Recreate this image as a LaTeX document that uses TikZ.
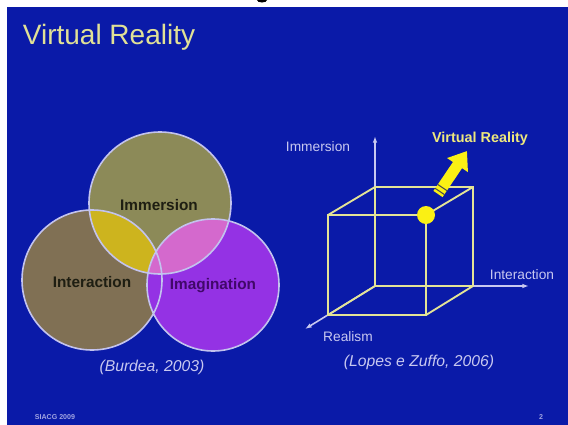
\documentclass[tikz,border=0pt]{standalone}
\usepackage{fontspec}
\setmainfont{Liberation Sans}
\usetikzlibrary{arrows.meta}
\usetikzlibrary{calc}

\definecolor{slideblue}{RGB}{10,26,168}
\definecolor{titlecol}{RGB}{225,225,150}
\definecolor{intfill}{RGB}{128,112,84}
\definecolor{immfill}{RGB}{140,138,88}
\definecolor{imafill}{RGB}{148,50,228}
\definecolor{yellowmix}{RGB}{205,180,30}
\definecolor{pinkmix}{RGB}{212,105,205}
\definecolor{ringcol}{RGB}{195,195,238}
\definecolor{lavender}{RGB}{200,200,240}
\definecolor{edgecol}{RGB}{228,228,150}
\definecolor{vryellow}{RGB}{250,240,20}
\definecolor{vrtext}{RGB}{238,232,125}
\definecolor{darktext}{RGB}{30,30,18}
\definecolor{imatext}{RGB}{65,8,105}

\tikzset{
  venn/.style={font=\bfseries\fontsize{11.5}{13}\selectfont, text=darktext},
  ring/.style={draw=ringcol, line width=1.2pt},
  axisline/.style={draw=lavender, line width=1.2pt, -{Latex[length=5pt,width=3.5pt]}},
  edge/.style={draw=edgecol, line width=1.4pt},
  axislabel/.style={font=\fontsize{10.3}{12}\selectfont, text=lavender},
  cite/.style={font=\itshape\fontsize{11.8}{14}\selectfont, text=lavender},
  footer/.style={font=\bfseries\fontsize{5.3}{7}\selectfont, text=lavender!80!slideblue},
}

\begin{document}
\begin{tikzpicture}[x=0.75pt,y=0.75pt,yscale=-1]
		\useasboundingbox (0,0) rectangle (568,425);
		\fill[white] (0,0) rectangle (568,425);
		\fill[slideblue] (7,7) rectangle (568,425);
		\fill[black] (262,0) ellipse (5 and 2.5);
		\node[font=\fontsize{21}{24}\selectfont, text=titlecol] (title) at (109,37) {Virtual Reality};

		\coordinate (cImm) at (160,203);
		\coordinate (cInt) at (92,280);
		\coordinate (cIma) at (213,285);
		\fill[intfill] (cInt) circle (70);
		\fill[immfill] (cImm) circle (71);
		\fill[imafill] (cIma) circle (66);
		\begin{scope}
			\clip (cImm) circle (71);
			\fill[yellowmix] (cInt) circle (70);
			\fill[pinkmix] (cIma) circle (66);
		\end{scope}
		\draw[ring] (cInt) circle (70) (cImm) circle (71) (cIma) circle (66);
		\node[venn] (immersion) at (159,205) {Immersion};
		\node[venn] (interaction) at (92,282) {Interaction};
		\node[venn, text=imatext] (imagination) at (213,286) {Imagination};
		\node[cite] (burdea) at (152,367) {(Burdea, 2003)};

		\coordinate (o) at (375,286);
		\coordinate (btl) at (375,187);
		\coordinate (btr) at (473,187);
		\coordinate (bbr) at (473,286);
		\coordinate (ftl) at (328,215);
		\coordinate (ftr) at (426,215);
		\coordinate (fbr) at (426,315);
		\coordinate (fbl) at (328,315);
		\coordinate (zend) at (375,136);
		\coordinate (xend) at (529,286);
		\coordinate (yend) at (305,329);
		\draw[axisline] (o) -- (zend);
		\draw[axisline] (o) -- (xend);
		\draw[axisline] (o) -- (yend);
		\draw[edge] (ftl) -- (ftr) -- (fbr) -- (fbl) -- cycle;
		\draw[edge] (ftl) -- (btl) -- (btr) -- (bbr) -- (fbr) (btr) -- (ftr);
		\draw[edge] (btl) -- (o) -- (bbr) (o) -- (fbl);
		\fill[vryellow] (ftr) circle (9);

		\coordinate (vrtail) at (438,194);
		\coordinate (vrtip) at (467,151);
		\draw[vryellow, line width=8.25pt, -{Triangle[length=12.75pt,width=18pt]}] (vrtail) -- (vrtip);
		\coordinate (s1) at ($(vrtail)!0.06!(vrtip)$);
		\coordinate (s2) at ($(vrtail)!0.15!(vrtip)$);
		\draw[black!70, line width=0.8pt] ($(s1)!4.3pt!90:(vrtip)$) -- ($(s1)!4.3pt!-90:(vrtip)$);
		\draw[black!70, line width=0.8pt] ($(s2)!4.3pt!90:(vrtip)$) -- ($(s2)!4.3pt!-90:(vrtip)$);

		\node[axislabel] (immlbl) at (318,147) {Immersion};
		\node[axislabel] (intlbl) at (522,275) {Interaction};
		\node[axislabel] (reallbl) at (348,337) {Realism};
		\node[font=\bfseries\fontsize{10.8}{13}\selectfont, text=vrtext] (vrlbl) at (480,139) {Virtual Reality};
		\node[cite] (lopes) at (419,362) {(Lopes e Zuffo, 2006)};
		\node[footer] (siacg) at (55,417) {SIACG 2009};
		\node[footer] (page) at (541,417) {2};
	\end{tikzpicture}
\end{document}
